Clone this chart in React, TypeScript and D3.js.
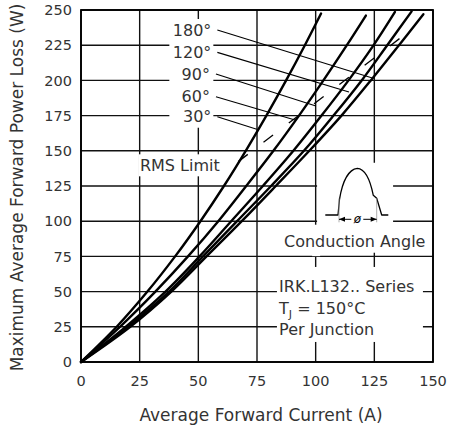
import React from 'react';
import * as d3 from 'd3';

// Axis ticks
const currentTicks = [0, 25, 50, 75, 100, 125, 150];
const powerTicks = [0, 25, 50, 75, 100, 125, 150, 175, 200, 225, 250];

// Loss curves: [average current (A), power loss (W)] per conduction angle
const curve30: [number, number][] = [[0, 0], [15.2, 25], [28.3, 50], [40.1, 75], [50.9, 100], [60.9, 125], [70.2, 150], [79.0, 175], [87.4, 200], [95.4, 225], [102.3, 247.5]];
const curve60: [number, number][] = [[0, 0], [16.6, 25], [31.7, 50], [45.6, 75], [58.5, 100], [70.4, 125], [82.0, 150], [92.9, 175], [103.3, 200], [113.3, 225], [121.4, 246]];
const curve90: [number, number][] = [[0, 0], [19, 25], [36, 50], [50.5, 75], [64, 100], [77.5, 125], [90.5, 150], [102.5, 175], [114, 200], [124.7, 225], [133.8, 248.6]];
const curve120: [number, number][] = [[0, 0], [20, 25], [37.5, 50], [52, 75], [66.5, 100], [81, 125], [95, 150], [107.6, 175], [119.6, 200], [130.5, 225], [140.9, 249]];
const curve180: [number, number][] = [[0, 0], [21, 25], [38.5, 50], [53.5, 75], [68.5, 100], [83, 125], [97.3, 150], [111, 175], [123.5, 200], [135.5, 225], [145.9, 247]];

const curves = [curve30, curve60, curve90, curve120, curve180];

// Angle labels with leader lines: start near the label, end on the curve
const angleLabels = ['180°', '120°', '90°', '60°', '30°'];
const leaderStarts: [number, number][] = [[58.1, 235.8], [58.1, 219.9], [57.5, 204.5], [57.5, 188.4], [58.1, 174.2]];
const leaderEnds: [number, number][] = [[124.5, 201.5], [114.2, 191.8], [100.1, 181.8], [91.2, 171.9], [74.9, 165.3]];

// RMS limit marker line
const rmsLimit: [number, number][] = [[67.0, 142.3], [135.9, 229.9]];

const infoLines = ['IRK.L132.. Series', 'T', 'Per Junction'];

export default function App() {
  const x = d3.scaleLinear().domain([0, 150]).range([81, 433]);
  const y = d3.scaleLinear().domain([0, 250]).range([362, 10]);

  const line = d3
    .line<[number, number]>()
    .x((d) => x(d[0]))
    .y((d) => y(d[1]))
    .curve(d3.curveCatmullRom.alpha(0.5));

  const font = "'DejaVu Sans', sans-serif";
  const textColor = '#333';

  // degree label block
  const lblX = x(leaderStarts[0][0]) - 6;
  const lblTop = y(leaderStarts[0][1]) - 11;
  const lblBottom = y(leaderStarts[4][1]) + 11;

  // inset waveform glyph, relative to its peak
  const px = 357.3;
  const py = 168.3;
  const wave = `M ${px - 32} ${py + 46.7} L ${px - 19.3} ${py + 46.7} L ${px - 17.8} ${py + 31}
    C ${px - 15} ${py + 14} ${px - 9} ${py + 1} ${px} ${py}
    C ${px + 8} ${py + 0.5} ${px + 13} ${py + 12} ${px + 16} ${py + 27}
    L ${px + 19.4} ${py + 30} L ${px + 24.4} ${py + 46.7} L ${px + 31} ${py + 46.7}`;
  const markL = px - 18.3;
  const markR = px + 19.4;
  const dimY = py + 51;

  return (
    <svg width={449} height={430} style={{ position: 'absolute', left: 0, top: 0, background: '#fff' }}>
      <rect x={0} y={0} width={449} height={430} fill="#fff" />

      {/* grid */}
      {currentTicks.map((t) => (
        <line key={'gx' + t} x1={x(t)} x2={x(t)} y1={y(0)} y2={y(250)} stroke="#111" strokeWidth={1.4} />
      ))}
      {powerTicks.map((t) => (
        <line key={'gy' + t} x1={x(0)} x2={x(150)} y1={y(t)} y2={y(t)} stroke="#111" strokeWidth={1.4} />
      ))}

      {/* label backgrounds */}
      <rect x={lblX - 42} y={lblTop} width={44} height={lblBottom - lblTop} fill="#fff" />
      <rect x={x(24.7)} y={y(147.5)} width={86} height={22} fill="#fff" />
      <rect x={x(100.6)} y={y(141.5)} width={76} height={63} fill="#fff" />
      <rect x={x(98.5)} y={y(91.5) - 3} width={8} height={26} fill="#fff" />
      <rect x={x(85.8)} y={y(97.5)} width={148} height={28} fill="#fff" />
      <rect x={x(83.5)} y={y(67.5)} width={146} height={75} fill="#fff" />

      {/* loss curves */}
      {curves.map((c, i) => (
        <path key={'c' + i} d={line(c) || ''} fill="none" stroke="#000" strokeWidth={2.4} strokeLinejoin="round" strokeLinecap="round" />
      ))}

      {/* RMS limit */}
      <line
        x1={x(rmsLimit[0][0])}
        y1={y(rmsLimit[0][1])}
        x2={x(rmsLimit[1][0])}
        y2={y(rmsLimit[1][1])}
        stroke="#000"
        strokeWidth={1.3}
        strokeDasharray="12 19.8"
      />

      {/* leaders and angle labels */}
      {angleLabels.map((lab, i) => (
        <g key={'l' + i}>
          <line
            x1={x(leaderStarts[i][0])}
            y1={y(leaderStarts[i][1])}
            x2={x(leaderEnds[i][0])}
            y2={y(leaderEnds[i][1])}
            stroke="#000"
            strokeWidth={1.1}
          />
          <text
            x={x(leaderStarts[i][0]) - 6}
            y={y(leaderStarts[i][1])}
            dy="0.36em"
            textAnchor="end"
            fontFamily={font}
            fontSize={16}
            fill={textColor}
          >
            {lab}
          </text>
        </g>
      ))}

      <text x={x(25.1)} y={y(140)} dy="0.36em" fontFamily={font} fontSize={16} fill={textColor}>
        RMS Limit
      </text>

      {/* conduction angle glyph */}
      <path d={wave} fill="none" stroke="#000" strokeWidth={1.3} strokeLinejoin="round" />
      <line x1={markL} x2={markL} y1={py + 30} y2={dimY + 3} stroke="#999" strokeWidth={0.8} />
      <line x1={markR} x2={markR} y1={py + 30} y2={dimY + 3} stroke="#999" strokeWidth={0.8} />
      <line x1={markL} x2={markR} y1={dimY} y2={dimY} stroke="#000" strokeWidth={1} />
      <path d={`M ${markL} ${dimY} l 6 -2.5 l 0 5 Z`} fill="#000" />
      <path d={`M ${markR} ${dimY} l -6 -2.5 l 0 5 Z`} fill="#000" />
      <rect x={px - 6} y={dimY - 6} width={12} height={12} fill="#fff" />
      <text x={px} y={dimY} dy="0.33em" textAnchor="middle" fontFamily={font} fontSize={12} fontStyle="italic" fill="#000">
        ø
      </text>

      <text x={x(86.5)} y={y(86.1)} dy="0.36em" fontFamily={font} fontSize={16} fill={textColor}>
        Conduction Angle
      </text>

      <text x={x(84.4)} y={y(53.5)} dy="0.36em" fontFamily={font} fontSize={16} fill={textColor}>
        {infoLines[0]}
      </text>
      <text x={x(84.4)} y={y(38.4)} dy="0.36em" fontFamily={font} fontSize={16} fill={textColor}>
        {infoLines[1]}
        <tspan dy={4} fontSize={11}>J</tspan>
        <tspan dy={-4}> = 150°C</tspan>
      </text>
      <text x={x(84.4)} y={y(23.4)} dy="0.36em" fontFamily={font} fontSize={16} fill={textColor}>
        {infoLines[2]}
      </text>

      {/* frame */}
      <rect x={x(0)} y={y(250)} width={x(150) - x(0)} height={y(0) - y(250)} fill="none" stroke="#000" strokeWidth={1.8} />

      {/* tick labels */}
      {powerTicks.map((t) => (
        <text key={'ty' + t} x={72} y={y(t)} dy="0.36em" textAnchor="end" fontFamily={font} fontSize={14.5} fill={textColor}>
          {t}
        </text>
      ))}
      {currentTicks.map((t) => (
        <text key={'tx' + t} x={x(t)} y={381} dy="0.36em" textAnchor="middle" fontFamily={font} fontSize={14.5} fill={textColor}>
          {t}
        </text>
      ))}

      {/* axis titles */}
      <text x={261} y={415} dy="0.36em" textAnchor="middle" fontFamily={font} fontSize={17} fill={textColor}>
        Average Forward Current (A)
      </text>
      <text
        transform={`translate(17, 187.5) rotate(-90)`}
        dy="0.36em"
        textAnchor="middle"
        fontFamily={font}
        fontSize={17}
        fill={textColor}
      >
        Maximum Average Forward Power Loss (W)
      </text>
    </svg>
  );
}
